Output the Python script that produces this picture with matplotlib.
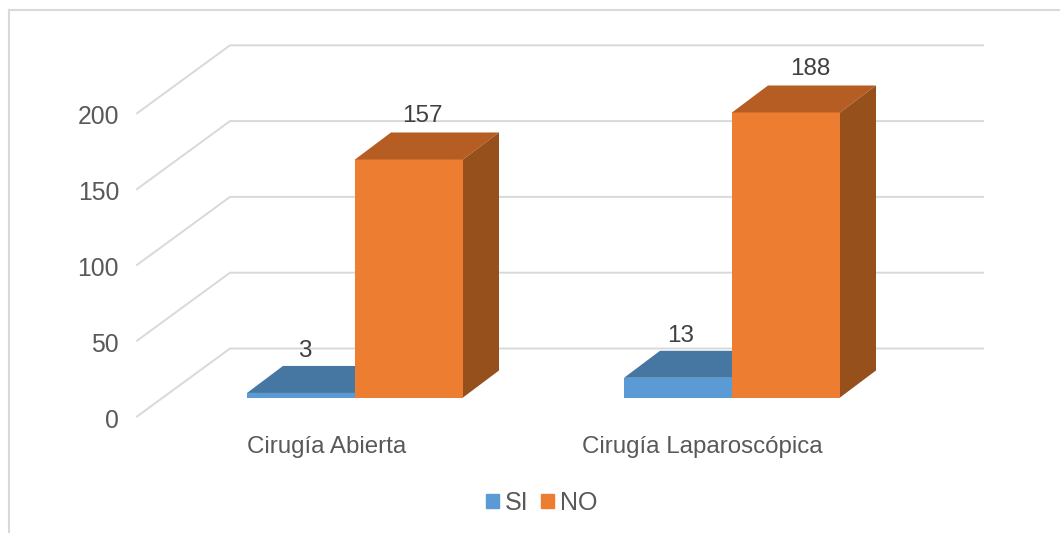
import numpy as np
import matplotlib
matplotlib.use('Agg')
import matplotlib.pyplot as plt
from matplotlib.patches import Polygon, Rectangle

plt.rcParams['font.family'] = ['Liberation Sans', 'DejaVu Sans']

categories = ['Cirugía Abierta', 'Cirugía Laparoscópica']
si_values = [3, 13]
no_values = [157, 188]
y_ticks = [0, 50, 100, 150, 200]

# axes span the whole figure, one unit of y is 1.516 px
px_x = 377.0
px_y = 1.516
bar_w = 108 / px_x
dep_x = 36 / px_x
dep_y = 27 / px_y

# gridlines live on the back wall, diagonals run to the front of the floor
wall_x0, wall_x1 = (230 - 355) / px_x, (983 - 355) / px_x
wall_y = 49 / px_y
front_x = (137 - 355) / px_x
front_y = -19 / px_y

grid_color = '#d9d9d9'
text_color = '#595959'
label_color = '#404040'


def draw_3d_bars(ax, x, values, front, top, side):
    bars = ax.bar(x, values, bar_w, align='edge', color=front, linewidth=0, zorder=3)
    for xi, v in zip(x, values):
        ax.add_patch(Polygon([(xi, v), (xi + bar_w, v),
                              (xi + bar_w + dep_x, v + dep_y), (xi + dep_x, v + dep_y)],
                             facecolor=top, edgecolor='none', zorder=3))
        ax.add_patch(Polygon([(xi + bar_w, 0), (xi + bar_w + dep_x, dep_y),
                              (xi + bar_w + dep_x, v + dep_y), (xi + bar_w, v)],
                             facecolor=side, edgecolor='none', zorder=3))
    return bars


fig = plt.figure(figsize=(10.6, 5.33), dpi=100)
ax = fig.add_axes([0, 0, 1, 1])
ax.set_xlim(-355 / px_x, (1060 - 355) / px_x)
ax.set_ylim(-(533 - 397.5) / px_y, 397.5 / px_y)
ax.axis('off')

# chart frame, only left and top are visible in the crop
ax.plot([(8.5 - 355) / px_x] * 2, [-(533 - 397.5) / px_y, (397.5 - 10) / px_y],
        color=grid_color, lw=1.5, zorder=1)
ax.plot([(8.5 - 355) / px_x, (1060 - 355) / px_x], [(397.5 - 10) / px_y] * 2,
        color=grid_color, lw=1.5, zorder=1)

for t in y_ticks:
    ax.plot([front_x, wall_x0, wall_x1],
            [t + front_y, t + wall_y, t + wall_y],
            color=grid_color, lw=1.4, zorder=1)
    ax.text(front_x - 18 / px_x, t + front_y - 4 / px_y, str(t), ha='right', va='center',
            fontsize=17.8, color=text_color)

x = np.arange(len(categories))
si_bars = draw_3d_bars(ax, x - bar_w, si_values, '#5b9bd5', '#4676a2', '#3f6c96')
no_bars = draw_3d_bars(ax, x, no_values, '#ed7d31', '#b55d22', '#96501c')

# data labels sit up and to the right of each bar
for xi, v, off in zip(x, si_values, [4, 3]):
    ax.text(xi - bar_w / 2 + off / px_x, v + 42 / px_y, str(v), ha='center', va='center',
            fontsize=17.5, color=label_color, zorder=4)
for xi, v, off in zip(x, no_values, [13, 24]):
    ax.text(xi + bar_w / 2 + off / px_x, v + 43.5 / px_y, str(v), ha='center', va='center',
            fontsize=17.5, color=label_color, zorder=4)

for xi, name, off in zip(x, categories, [-28, -29.5]):
    ax.text(xi + off / px_x, -50 / px_y, name, ha='center', va='center',
            fontsize=17.4, color=text_color)

handles = [Rectangle((0, 0), 1, 1, color='#5b9bd5'), Rectangle((0, 0), 1, 1, color='#ed7d31')]
ax.legend(handles, ['SI', 'NO'], ncol=2, frameon=False, loc='center',
          bbox_to_anchor=(541.5 / 1060, 1 - 503 / 533), fontsize=18, labelcolor=text_color,
          handlelength=0.52, handleheight=0.52, handletextpad=0.22, columnspacing=0.52,
          borderpad=0)

fig.savefig('out.png', dpi=100)
